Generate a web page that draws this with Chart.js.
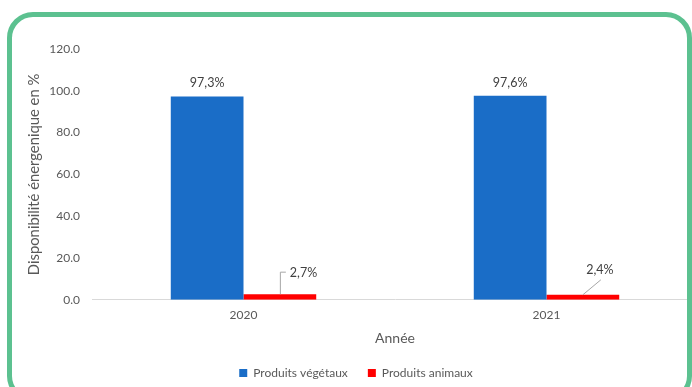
<!DOCTYPE html>
<html>
<head>
<meta charset="utf-8">
<script src="https://cdn.jsdelivr.net/npm/chart.js@4"></script>
<style>
  html, body { margin: 0; padding: 0; background: #fff; overflow: hidden; }
  #wrap { position: relative; width: 692px; height: 387px; overflow: hidden; }
  #frame {
    position: absolute; left: 7px; top: 12px; width: 675px; height: 380px;
    border: 5px solid #5cc190; border-radius: 26px; box-sizing: content-box;
    pointer-events: none;
  }
  #cv { position: absolute; left: 0; top: 0; }
</style>
</head>
<body>
<div id="wrap">
  <canvas id="cv" width="700" height="387"></canvas>
  <div id="frame"></div>
</div>
<script>
const years = ['2020', '2021'];
const vegetal = [97.3, 97.6];
const animal = [2.7, 2.4];
const yTicks = [0, 20, 40, 60, 80, 100, 120];

const FONT = 'Lato, "Open Sans", sans-serif';
const TXT = '#595959';

const fmtPct = v => v.toFixed(1).replace('.', ',') + '%';

// Value labels: above the plant bars, with leader lines for the small animal bars
const barLabels = {
  id: 'barLabels',
  afterDatasetsDraw(chart) {
    const ctx = chart.ctx;
    ctx.save();
    ctx.font = '12.5px ' + FONT;
    ctx.fillStyle = '#404040';
    ctx.textBaseline = 'middle';

    chart.getDatasetMeta(0).data.forEach((bar, i) => {
      ctx.textAlign = 'center';
      ctx.fillText(fmtPct(vegetal[i]), bar.x, bar.y - 13);
    });

    ctx.strokeStyle = '#a6a6a6';
    ctx.lineWidth = 1;
    chart.getDatasetMeta(1).data.forEach((bar, i) => {
      const t = fmtPct(animal[i]);
      ctx.beginPath();
      if (i === 0) {
        ctx.moveTo(bar.x + 0.5, bar.y);
        ctx.lineTo(bar.x + 0.5, bar.y - 22);
        ctx.lineTo(bar.x + 6, bar.y - 22);
        ctx.stroke();
        ctx.textAlign = 'left';
        ctx.fillText(t, bar.x + 10, bar.y - 21);
      } else {
        ctx.moveTo(bar.x, bar.y);
        ctx.lineTo(bar.x + 18, bar.y - 15);
        ctx.stroke();
        ctx.textAlign = 'center';
        ctx.fillText(t, bar.x + 17, bar.y - 25);
      }
    });
    ctx.restore();
  }
};

new Chart(document.getElementById('cv'), {
  type: 'bar',
  data: {
    labels: years,
    datasets: [
      { label: 'Produits végétaux', data: vegetal, backgroundColor: '#1a6dc7' },
      { label: 'Produits animaux', data: animal, backgroundColor: '#ff0000' }
    ]
  },
  options: {
    responsive: false,
    animation: false,
    events: [],
    layout: { padding: { left: 14, right: 2, top: 49, bottom: -2 } },
    datasets: { bar: { categoryPercentage: 0.48, barPercentage: 1.0 } },
    scales: {
      x: {
        grid: { display: false, drawTicks: false },
        border: { display: true, color: '#d9d9d9', width: 1 },
        ticks: { color: TXT, font: { family: FONT, size: 12 }, padding: 8 },
        title: {
          display: true, text: 'Année', color: TXT,
          font: { family: FONT, size: 14 }, padding: { top: 0, bottom: 0 }
        }
      },
      y: {
        min: 0, max: 120,
        afterBuildTicks(scale) { scale.ticks = yTicks.map(v => ({ value: v })); },
        afterFit(scale) { scale.width = 78; },
        grid: { display: false, drawTicks: false },
        border: { display: false },
        ticks: {
          color: TXT, font: { family: FONT, size: 12 }, padding: 12,
          callback: v => v.toFixed(1)
        },
        title: {
          display: true, text: 'Disponibilité énergenique en %', color: TXT,
          font: { family: FONT, size: 14.8 }, padding: { top: 11, bottom: 0 }
        }
      }
    },
    plugins: {
      legend: {
        position: 'bottom',
        labels: {
          color: TXT, font: { family: FONT, size: 12 },
          boxWidth: 8, boxHeight: 8, padding: 20
        }
      },
      tooltip: { enabled: false }
    }
  },
  plugins: [barLabels]
});
</script>
</body>
</html>
